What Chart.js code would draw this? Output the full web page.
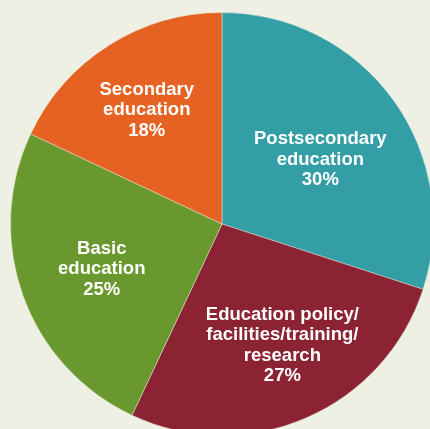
<!DOCTYPE html>
<html>
<head>
<meta charset="utf-8">
<script src="https://cdn.jsdelivr.net/npm/chart.js@4"></script>
<style>
  html, body { margin: 0; padding: 0; background: #eef0e3; overflow: hidden; }
  body { width: 430px; height: 429px; position: relative; }
  #wrap { position: absolute; left: 10px; top: 12px; width: 424px; height: 424px; }
</style>
</head>
<body>
<div id="wrap"><canvas id="pie"></canvas></div>
<script>
// Shares of education spending, clockwise from 12 o'clock
const categories = [
  ['Postsecondary', 'education'],
  ['Education policy/', 'facilities/training/', 'research'],
  ['Basic', 'education'],
  ['Secondary', 'education']
];
const shares = [30, 27, 25, 18];
const colors = ['#339ea5', '#8b2333', '#68982e', '#e66223'];

// where each label sits: fraction of the radius, plus a small angle nudge (deg)
const labelRadius = [0.555, 0.642, 0.607, 0.646];
const labelNudge = [2.9, -3, -0.7, -1];

const sliceLabels = {
  id: 'sliceLabels',
  afterDatasetsDraw(chart) {
    const ctx = chart.ctx;
    const meta = chart.getDatasetMeta(0);
    ctx.save();
    ctx.fillStyle = '#ffffff';
    ctx.font = 'bold 18.5px "Liberation Sans", Arial, sans-serif';
    ctx.textAlign = 'center';
    ctx.textBaseline = 'middle';
    const lineH = 20.5;
    meta.data.forEach((arc, i) => {
      const p = arc.getProps(['x', 'y', 'startAngle', 'endAngle', 'outerRadius'], true);
      const mid = (p.startAngle + p.endAngle) / 2 + labelNudge[i] * Math.PI / 180;
      const r = p.outerRadius * labelRadius[i];
      const cx = p.x + Math.cos(mid) * r;
      const cy = p.y + Math.sin(mid) * r;
      const lines = categories[i].concat([shares[i] + '%']);
      const top = cy - (lines.length - 1) * lineH / 2;
      lines.forEach((t, k) => ctx.fillText(t, cx, top + k * lineH));
    });
    ctx.restore();
  }
};

new Chart(document.getElementById('pie'), {
  type: 'pie',
  data: {
    labels: categories.map(c => c.join(' ')),
    datasets: [{
      data: shares,
      backgroundColor: colors,
      borderColor: 'rgba(238,240,227,0.45)',
      borderWidth: 1
    }]
  },
  options: {
    responsive: true,
    maintainAspectRatio: false,
    animation: false,
    layout: { padding: 0 },
    plugins: {
      legend: { display: false },
      tooltip: { enabled: false }
    }
  },
  plugins: [sliceLabels]
});
</script>
</body>
</html>
